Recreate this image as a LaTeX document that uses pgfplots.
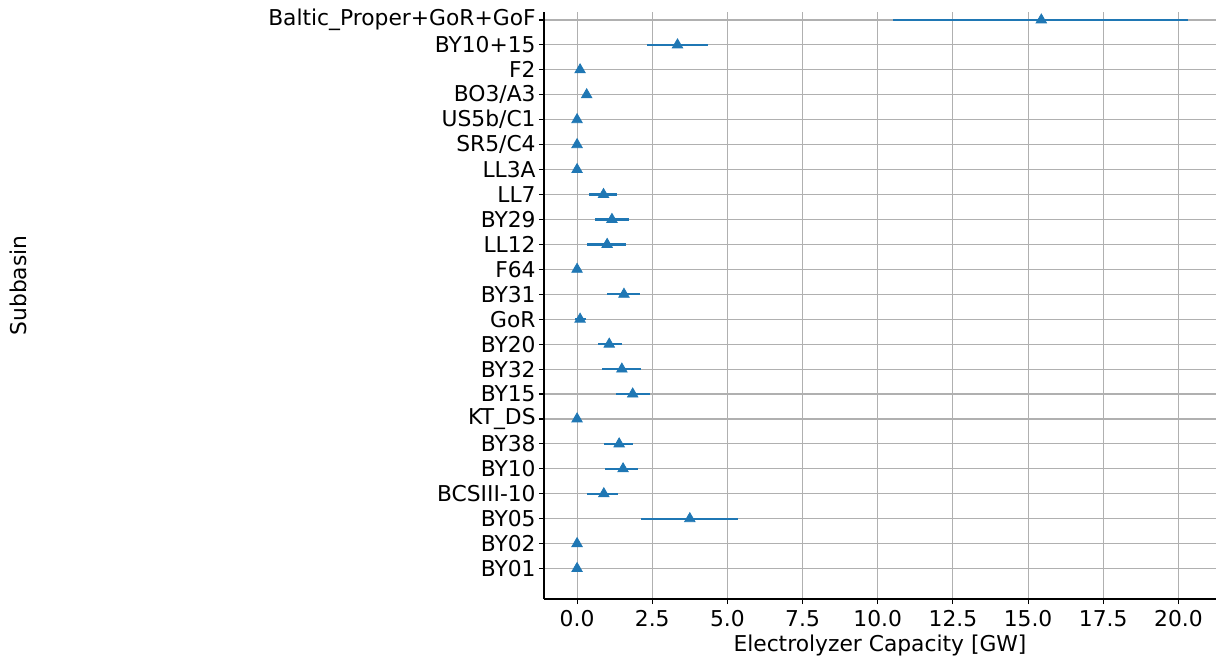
\documentclass[border=0pt]{standalone}
\usepackage{pgfplots}
\pgfplotsset{compat=1.18}
\usepackage{fontspec}
\setmainfont{DejaVu Sans}
\definecolor{mplblue}{HTML}{1F77B4}
\definecolor{gridgray}{HTML}{B0B0B0}

\pgfplotstableread{
y x xp xm
0 0.00 0.00 0.00
1 0.00 0.00 0.00
2 3.75 1.60 1.62
3 0.89 0.46 0.55
4 1.53 0.50 0.59
5 1.40 0.47 0.50
6 0.00 0.00 0.00
7 1.85 0.58 0.57
8 1.49 0.63 0.66
9 1.07 0.44 0.39
10 0.10 0.20 0.17
11 1.56 0.52 0.57
12 0.00 0.00 0.00
13 1.00 0.63 0.66
14 1.16 0.56 0.58
15 0.88 0.45 0.49
16 0.00 0.00 0.00
17 0.00 0.00 0.00
18 0.00 0.00 0.00
19 0.32 0.05 0.05
20 0.10 0.08 0.08
21 3.34 1.03 1.02
22 15.44 4.88 4.94
}\capacity

\begin{document}
\begin{tikzpicture}[font=\fontsize{10.9bp}{12.5bp}\selectfont]
\begin{axis}[
    scale only axis,
    width=336bp, height=293.5bp,
    xmin=-1.1, xmax=21.25,
    ymin=-1.22, ymax=22.32,
    axis x line*=bottom, axis y line*=left,
    axis line style={-, line width=0.55bp, black},
    tick align=outside,
    major tick length=2.5bp,
    tick style={line width=0.55bp, black},
    grid=major,
    grid style={line width=0.55bp, gridgray},
    xtick={0,2.5,...,20},
    xticklabel style={/pgf/number format/fixed, /pgf/number format/fixed zerofill, /pgf/number format/precision=1, /pgf/number format/assume math mode=true, inner ysep=3bp},
    ytick={0,...,22},
    yticklabels={BY01, BY02, BY05, BCSIII-10, BY10, BY38, KT\_DS, BY15, BY32, BY20, GoR, BY31, F64, LL12, BY29, LL7, LL3A, SR5/C4, US5b/C1, BO3/A3, F2, BY10+15, Baltic\_Proper+GoR+GoF},
    yticklabel style={inner xsep=1.5bp},
    xlabel={Electrolyzer Capacity [GW]},
    xlabel style={inner ysep=1bp},
    ylabel={Subbasin},
    every axis y label/.style={at={(axis description cs:-0.7827,0.534)}, rotate=90, anchor=center},
]
\addplot[only marks, mark=triangle*, color=mplblue, mark size=3bp,
    error bars/.cd, x dir=both, x explicit, error mark=none,
    error bar style={line width=1.1bp, mplblue}]
    table[x=x, y=y, x error plus=xp, x error minus=xm] {\capacity};
\end{axis}
\pgfresetboundingbox
\path[use as bounding box] ([xshift=-272bp, yshift=-28.5bp]current axis.south west) rectangle ([yshift=6bp]current axis.north east);
\end{tikzpicture}
\end{document}
